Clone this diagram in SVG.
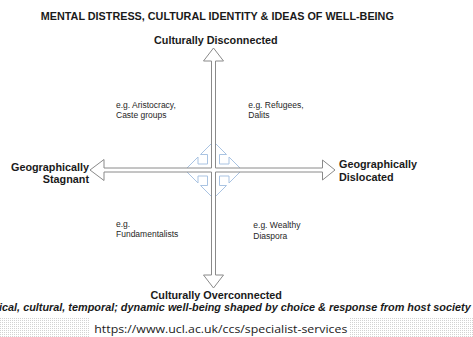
<svg xmlns="http://www.w3.org/2000/svg" width="473" height="337" viewBox="0 0 473 337">
<defs>
<style>
.t{font-family:"Liberation Sans",Arial,sans-serif;fill:#1a1a1a}
.b{font-weight:bold;font-size:10.8px}
.q{font-size:8.5px;fill:#262626}
.axis{fill:#fff;stroke:#8a8a8a;stroke-width:1;stroke-linejoin:miter}
.deco{fill:none;stroke:#a9c3e2;stroke-width:1}
</style>
<pattern id="dots" width="2" height="2" patternUnits="userSpaceOnUse">
<rect width="2" height="2" fill="#fff"/>
<rect width="1" height="1" fill="#d2d2d2"/>
</pattern>
</defs>
<rect width="473" height="337" fill="#fff"/>
<text class="t b" x="217.3" y="20" text-anchor="middle" textLength="353" lengthAdjust="spacingAndGlyphs">MENTAL DISTRESS, CULTURAL IDENTITY &amp; IDEAS OF WELL-BEING</text>

<g id="connectors">
<path id="center-quad" class="deco" d="M213.5,141.5 L226.5,154.5 L219.5,154.5 L219.5,164 L229,164 L229,157 L242,170 L229,183 L229,176 L219.5,176 L219.5,185.5 L226.5,185.5 L213.5,198.5 L200.5,185.5 L207.5,185.5 L207.5,176 L198,176 L198,183 L185,170 L198,157 L198,164 L207.5,164 L207.5,154.5 L200.5,154.5 Z"/>
<path id="axes" class="axis" d="M213.5,48 L223.5,61 L215.5,61 L215.5,168 L322.5,168 L322.5,160 L335,170 L322.5,180 L322.5,172 L215.5,172 L215.5,275 L223.5,275 L213.5,288 L203.5,275 L211.5,275 L211.5,172 L104,172 L104,180.5 L90,170 L104,159.5 L104,168 L211.5,168 L211.5,61 L203.5,61 Z"/>
</g>

<g id="top-label"><text class="t b" x="215.8" y="43.5" text-anchor="middle">Culturally Disconnected</text></g>
<g id="bottom-label"><text class="t b" x="216.2" y="299" text-anchor="middle">Culturally Overconnected</text></g>
<g id="left-label">
<text class="t b" x="89" y="170.5" text-anchor="end">Geographically</text>
<text class="t b" x="89" y="183.3" text-anchor="end">Stagnant</text>
</g>
<g id="right-label">
<text class="t b" x="339" y="168.3">Geographically</text>
<text class="t b" x="339" y="181">Dislocated</text>
</g>

<g id="quad-top-left">
<text class="t q" x="116" y="107.7">e.g. Aristocracy,</text>
<text class="t q" x="116" y="118.3">Caste groups</text>
</g>
<g id="quad-top-right">
<text class="t q" x="248.3" y="107.7">e.g. Refugees,</text>
<text class="t q" x="248.3" y="118.3">Dalits</text>
</g>
<g id="quad-bottom-left">
<text class="t q" x="116" y="226.8">e.g.</text>
<text class="t q" x="116" y="237.3">Fundamentalists</text>
</g>
<g id="quad-bottom-right">
<text class="t q" x="253.3" y="228">e.g. Wealthy</text>
<text class="t q" x="253.3" y="238.5">Diaspora</text>
</g>

<text class="t b" x="-1" y="310.5" font-style="italic" textLength="471.7" lengthAdjust="spacingAndGlyphs">ical, cultural, temporal; dynamic well-being shaped by choice &amp; response from host society</text>

<rect x="0" y="318" width="473" height="19" fill="url(#dots)"/>
<rect x="90" y="318" width="260" height="19" fill="#fff"/>
<text x="94.3" y="332.5" font-family="'Open Sans','Liberation Sans',sans-serif" font-size="11.5" fill="#1a1a1a" textLength="253" lengthAdjust="spacingAndGlyphs">https://www.ucl.ac.uk/ccs/specialist-services</text>
</svg>
